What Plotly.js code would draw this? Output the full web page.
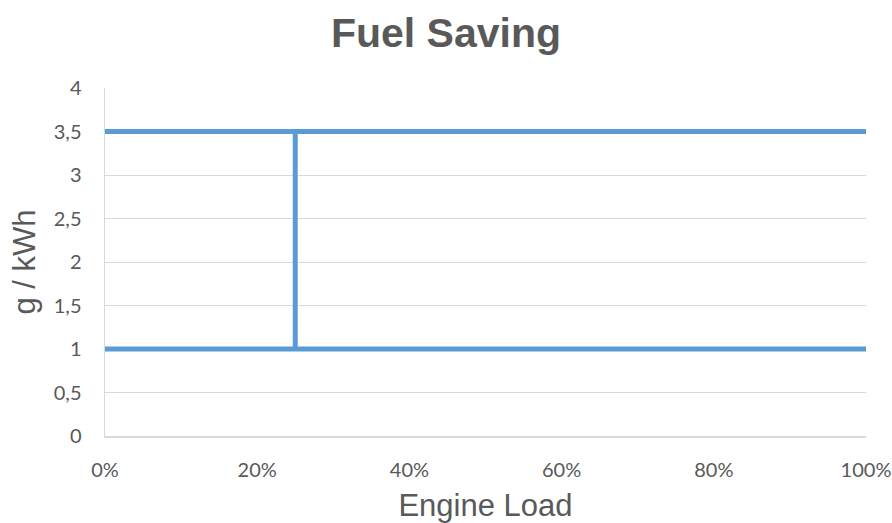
<!DOCTYPE html>
<html>
<head>
<meta charset="utf-8">
<script src="https://cdn.plot.ly/plotly-3.0.1.min.js"></script>
<style>html,body{margin:0;padding:0;background:#fff;}#chart{width:892px;height:523px;}</style>
</head>
<body>
<div id="chart"></div>
<script>
// Engine load (%) and fuel saving (g/kWh)
var lowLoad = [0, 100];
var lowSaving = [1, 1];
var highLoad = [0, 100];
var highSaving = [3.5, 3.5];
var stepLoad = [25, 25];
var stepSaving = [1, 3.5];
var xTicks = [0, 20, 40, 60, 80, 100];
var xTickLabels = ['0%', '20%', '40%', '60%', '80%', '100%'];
var yTicks = [0, 0.5, 1, 1.5, 2, 2.5, 3, 3.5, 4];
var yTickLabels = ['0', '0,5', '1', '1,5', '2', '2,5', '3', '3,5', '4'];

var lineStyle = {color: '#5B9BD5', width: 5};
var traces = [
  {x: lowLoad, y: lowSaving, type: 'scatter', mode: 'lines', line: lineStyle, hoverinfo: 'none'},
  {x: highLoad, y: highSaving, type: 'scatter', mode: 'lines', line: lineStyle, hoverinfo: 'none'},
  {x: stepLoad, y: stepSaving, type: 'scatter', mode: 'lines', line: lineStyle, hoverinfo: 'none'}
];

var tickFont = {family: 'Lato, "Open Sans", sans-serif', size: 20, color: '#595959'};
var axisTitleFont = {family: '"Liberation Sans", Arial, sans-serif', size: 31, color: '#595959'};
var layout = {
  width: 892, height: 523,
  separators: ',.',
  showlegend: false,
  paper_bgcolor: '#ffffff', plot_bgcolor: '#ffffff',
  margin: {l: 105, r: 26, t: 88, b: 87},
  title: {text: '<b>Fuel Saving</b>', font: {family: '"Liberation Sans", Arial, sans-serif', size: 41, color: '#595959'}, x: 0.5, xanchor: 'center', y: 0.937, yanchor: 'middle'},
  xaxis: {
    range: [0, 100], tickmode: 'array', tickvals: xTicks, ticktext: xTickLabels,
    showgrid: false, zeroline: false, showline: true, linecolor: '#d9d9d9', linewidth: 1.5,
    ticks: '', tickfont: tickFont, ticklabelstandoff: 15,
    title: {text: 'Engine Load', font: axisTitleFont, standoff: 17}
  },
  yaxis: {
    range: [0, 4], tickmode: 'array', tickvals: yTicks, ticktext: yTickLabels,
    showgrid: true, gridcolor: '#d9d9d9', gridwidth: 1, zeroline: false, showline: true, linecolor: '#d9d9d9', linewidth: 1.5,
    ticks: '', tickfont: tickFont, ticklabelstandoff: 18,
    title: {text: 'g / kWh', font: axisTitleFont, standoff: 9}
  }
};
Plotly.newPlot('chart', traces, layout, {displayModeBar: false, staticPlot: true});
</script>
</body>
</html>
